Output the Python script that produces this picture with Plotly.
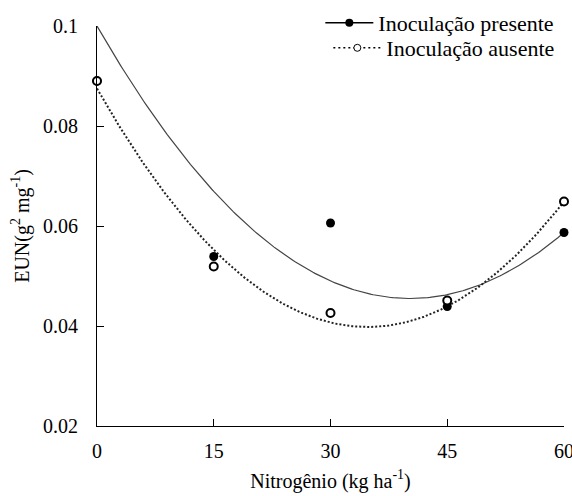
import numpy as np
import plotly.graph_objects as go

# ---- data ----
nitrogenio = [0, 15, 30, 45, 60]
eun_presente = [0.089, 0.0539, 0.0606, 0.0439, 0.0587]
eun_ausente = [0.089, 0.0519, 0.0426, 0.0451, 0.0649]
# quadratic regression coefficients (a + b*x + c*x^2)
coef_presente = [0.1, -0.0027107, 0.000033705]
coef_ausente = [0.0875, -0.0027434, 0.000039445]
x_ticks = [0, 15, 30, 45, 60]
y_ticks = [0.02, 0.04, 0.06, 0.08, 0.1]
y_ticklabels = ["0.02", "0.04", "0.06", "0.08", "0.1"]
nome_presente = "Inoculação presente"
nome_ausente = "Inoculação ausente"

FONT = "Liberation Serif"

xc = np.linspace(min(nitrogenio), max(nitrogenio), 241)
def quad(c, x):
    return c[0] + c[1] * x + c[2] * x ** 2

fig = go.Figure()
fig.add_trace(go.Scatter(x=xc, y=quad(coef_presente, xc), mode="lines",
                         line=dict(color="#444444", width=1.2), showlegend=False,
                         hoverinfo="skip"))
fig.add_trace(go.Scatter(x=xc, y=quad(coef_ausente, xc), mode="lines",
                         line=dict(color="#222222", width=2, dash="2px,2px"),
                         showlegend=False, hoverinfo="skip"))
fig.add_trace(go.Scatter(x=nitrogenio, y=eun_presente, mode="markers",
                         marker=dict(symbol="circle", size=9, color="black"),
                         showlegend=False, cliponaxis=False))
fig.add_trace(go.Scatter(x=nitrogenio, y=eun_ausente, mode="markers",
                         marker=dict(symbol="circle", size=8, color="white",
                                     line=dict(color="black", width=2)),
                         showlegend=False, cliponaxis=False))
# legend entries
fig.add_trace(go.Scatter(x=[None], y=[None], mode="lines+markers", name=nome_presente,
                         line=dict(color="black", width=1.5),
                         marker=dict(symbol="circle", size=8, color="black"),
                         legend="legend"))
fig.add_trace(go.Scatter(x=[None], y=[None], mode="lines+markers", name=nome_ausente,
                         line=dict(color="black", width=1.5, dash="2px,3px"),
                         marker=dict(symbol="circle", size=7, color="white",
                                     line=dict(color="black", width=1)),
                         legend="legend2"))

fig.update_layout(
    width=572, height=496,
    margin=dict(l=97, r=8, t=26, b=70, autoexpand=False),
    paper_bgcolor="white", plot_bgcolor="white",
    font=dict(family=FONT, size=20, color="black"),
    showlegend=True,
    legend=dict(x=0.99, y=1.0075, xanchor="right", yanchor="middle",
                bgcolor="rgba(0,0,0,0)", font=dict(family=FONT, size=22),
                itemwidth=48),
    legend2=dict(x=0.99, y=0.945, xanchor="right", yanchor="middle",
                 bgcolor="rgba(0,0,0,0)", font=dict(family=FONT, size=22),
                 itemwidth=48),
    xaxis=dict(range=[0, 60], tickvals=x_ticks, ticks="inside", ticklen=7,
               tickcolor="black", showline=True, linecolor="black", linewidth=1,
               showgrid=False, zeroline=False, ticklabelstandoff=7,
               ticklabeloverflow="allow",
               title=dict(text="Nitrogênio (kg ha<sup>-1</sup>)", standoff=12,
                          font=dict(family=FONT, size=20))),
    yaxis=dict(range=[0.02, 0.1], tickvals=y_ticks, ticktext=y_ticklabels,
               ticks="inside", ticklen=7, tickcolor="black", showline=True,
               linecolor="black", linewidth=1, showgrid=False, zeroline=False,
               ticklabelstandoff=14, ticklabeloverflow="allow",
               title=dict(text="EUN(g<sup>2</sup> mg<sup>-1</sup>)", standoff=8,
                          font=dict(family=FONT, size=20))),
)

fig.write_html("out.html",
               config={"displayModeBar": False},
               post_script="document.body.style.margin='0px';"
                           "document.body.style.overflow='hidden';")
